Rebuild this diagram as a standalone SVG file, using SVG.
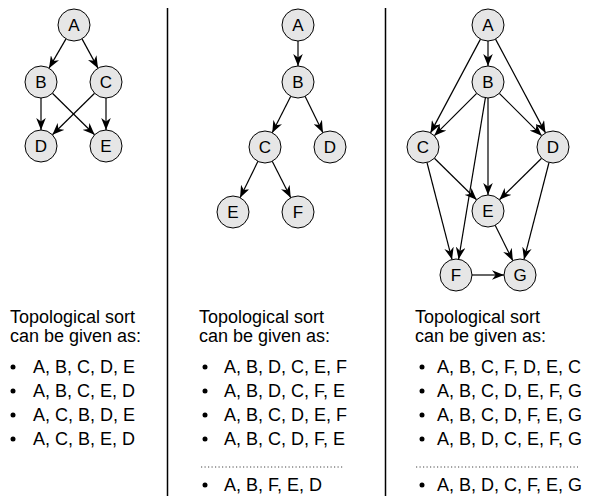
<svg xmlns="http://www.w3.org/2000/svg" width="590" height="496" viewBox="0 0 590 496">
<style>
.node circle{fill:#e6e6e6;stroke:#000;stroke-width:1}
.node text{font-family:"Liberation Sans",Arial,sans-serif;font-size:17px;fill:#000;text-anchor:middle}
.edge{stroke:#000;stroke-width:1.2;fill:none;marker-end:url(#arr)}
.t{font-family:"Liberation Sans",Arial,sans-serif;font-size:18px;fill:#000}
.sep{stroke:#000;stroke-width:1.5}
.dots{stroke:#444;stroke-width:1;stroke-dasharray:1.2 2.3}
</style>
<defs>
<marker id="arr" viewBox="0 0 10 8" markerUnits="userSpaceOnUse" markerWidth="12" markerHeight="9.6" refX="10" refY="4" orient="auto">
<path d="M0,0 L10,4 L0,8 L3,4 z" fill="#000"/>
</marker>
</defs>
<rect width="590" height="496" fill="#fff"/>
<g id="separators">
<line class="sep" x1="167.5" y1="8" x2="167.5" y2="496"/>
<line class="sep" x1="385.5" y1="8" x2="385.5" y2="496"/>
</g>
<g id="connectors">
<line class="edge" x1="65.98" y1="38.84" x2="49.02" y2="68.16"/>
<line class="edge" x1="82.02" y1="38.84" x2="97.98" y2="68.16"/>
<line class="edge" x1="41" y1="98" x2="41" y2="130"/>
<line class="edge" x1="106" y1="98" x2="106" y2="130"/>
<line class="edge" x1="52.4" y1="93.23" x2="94.6" y2="134.77"/>
<line class="edge" x1="94.6" y1="93.23" x2="52.4" y2="134.77"/>
<line class="edge" x1="298" y1="41" x2="298" y2="66"/>
<line class="edge" x1="290.76" y1="96.27" x2="272.24" y2="132.73"/>
<line class="edge" x1="305.07" y1="96.35" x2="322.93" y2="132.65"/>
<line class="edge" x1="257.93" y1="161.35" x2="240.07" y2="197.65"/>
<line class="edge" x1="272.24" y1="161.27" x2="290.76" y2="197.73"/>
<line class="edge" x1="488" y1="41" x2="488" y2="66"/>
<line class="edge" x1="480.48" y1="39.12" x2="430.52" y2="132.88"/>
<line class="edge" x1="495.52" y1="39.12" x2="545.48" y2="132.88"/>
<line class="edge" x1="476.69" y1="93.31" x2="434.31" y2="135.69"/>
<line class="edge" x1="499.31" y1="93.31" x2="541.69" y2="135.69"/>
<line class="edge" x1="488" y1="98" x2="488" y2="195"/>
<line class="edge" x1="485.38" y1="97.79" x2="458.62" y2="259.21"/>
<line class="edge" x1="434.4" y1="158.23" x2="476.6" y2="199.77"/>
<line class="edge" x1="541.6" y1="158.23" x2="499.4" y2="199.77"/>
<line class="edge" x1="426.99" y1="162.49" x2="452.01" y2="259.51"/>
<line class="edge" x1="549.01" y1="162.49" x2="523.99" y2="259.51"/>
<line class="edge" x1="495.16" y1="225.31" x2="512.84" y2="260.69"/>
<line class="edge" x1="472" y1="275" x2="504" y2="275"/>
</g>
<g id="p1A" class="node"><circle cx="74" cy="25" r="16"/><text x="74" y="31">A</text></g>
<g id="p1B" class="node"><circle cx="41" cy="82" r="16"/><text x="41" y="88">B</text></g>
<g id="p1C" class="node"><circle cx="106" cy="82" r="16"/><text x="106" y="88">C</text></g>
<g id="p1D" class="node"><circle cx="41" cy="146" r="16"/><text x="41" y="152">D</text></g>
<g id="p1E" class="node"><circle cx="106" cy="146" r="16"/><text x="106" y="152">E</text></g>
<g id="p2A" class="node"><circle cx="298" cy="25" r="16"/><text x="298" y="31">A</text></g>
<g id="p2B" class="node"><circle cx="298" cy="82" r="16"/><text x="298" y="88">B</text></g>
<g id="p2C" class="node"><circle cx="265" cy="147" r="16"/><text x="265" y="153">C</text></g>
<g id="p2D" class="node"><circle cx="330" cy="147" r="16"/><text x="330" y="153">D</text></g>
<g id="p2E" class="node"><circle cx="233" cy="212" r="16"/><text x="233" y="218">E</text></g>
<g id="p2F" class="node"><circle cx="298" cy="212" r="16"/><text x="298" y="218">F</text></g>
<g id="p3A" class="node"><circle cx="488" cy="25" r="16"/><text x="488" y="31">A</text></g>
<g id="p3B" class="node"><circle cx="488" cy="82" r="16"/><text x="488" y="88">B</text></g>
<g id="p3C" class="node"><circle cx="423" cy="147" r="16"/><text x="423" y="153">C</text></g>
<g id="p3D" class="node"><circle cx="553" cy="147" r="16"/><text x="553" y="153">D</text></g>
<g id="p3E" class="node"><circle cx="488" cy="211" r="16"/><text x="488" y="217">E</text></g>
<g id="p3F" class="node"><circle cx="456" cy="275" r="16"/><text x="456" y="281">F</text></g>
<g id="p3G" class="node"><circle cx="520" cy="275" r="16"/><text x="520" y="281">G</text></g>
<g id="text1">
<text class="t" x="10" y="323">Topological sort</text>
<text class="t" x="10" y="342">can be given as:</text>
<circle cx="13" cy="367" r="2.5"/><text class="t" x="33" y="373">A, B, C, D, E</text>
<circle cx="13" cy="391" r="2.5"/><text class="t" x="33" y="397">A, B, C, E, D</text>
<circle cx="13" cy="415" r="2.5"/><text class="t" x="33" y="421">A, C, B, D, E</text>
<circle cx="13" cy="439" r="2.5"/><text class="t" x="33" y="445">A, C, B, E, D</text>
</g>
<g id="text2">
<text class="t" x="199" y="323">Topological sort</text>
<text class="t" x="199" y="342">can be given as:</text>
<circle cx="205" cy="367" r="2.5"/><text class="t" x="224" y="373">A, B, D, C, E, F</text>
<circle cx="205" cy="391" r="2.5"/><text class="t" x="224" y="397">A, B, D, C, F, E</text>
<circle cx="205" cy="415" r="2.5"/><text class="t" x="224" y="421">A, B, C, D, E, F</text>
<circle cx="205" cy="439" r="2.5"/><text class="t" x="224" y="445">A, B, C, D, F, E</text>
<line class="dots" x1="201" y1="467" x2="343" y2="467"/>
<circle cx="205" cy="485" r="2.5"/><text class="t" x="224" y="491">A, B, F, E, D</text>
</g>
<g id="text3">
<text class="t" x="415" y="323">Topological sort</text>
<text class="t" x="415" y="342">can be given as:</text>
<circle cx="422" cy="367" r="2.5"/><text class="t" x="437" y="373">A, B, C, F, D, E, C</text>
<circle cx="422" cy="391" r="2.5"/><text class="t" x="437" y="397">A, B, C, D, E, F, G</text>
<circle cx="422" cy="415" r="2.5"/><text class="t" x="437" y="421">A, B, C, D, F, E, G</text>
<circle cx="422" cy="439" r="2.5"/><text class="t" x="437" y="445">A, B, D, C, E, F, G</text>
<line class="dots" x1="416" y1="467" x2="578" y2="467"/>
<circle cx="422" cy="485" r="2.5"/><text class="t" x="437" y="491">A, B, D, C, F, E, G</text>
</g>
</svg>
